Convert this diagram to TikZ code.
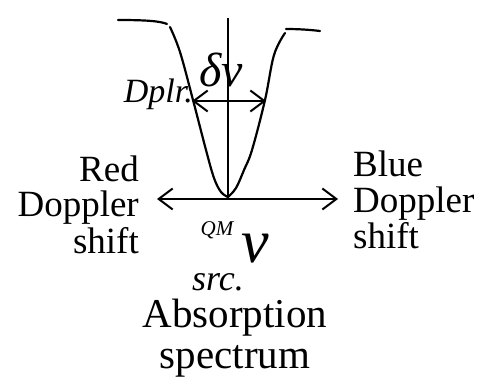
\documentclass[tikz,border=0pt]{standalone}
\usepackage{fontspec}
\setmainfont{Liberation Serif}
\usetikzlibrary{arrows.meta}
\begin{document}
\begin{tikzpicture}[x=1pt,y=-1pt,
  curve/.style={line width=2.2pt,line join=round,line cap=round},
  axis/.style={line width=1.4pt},
  dblarrow/.style={line width=2pt,{Straight Barb[length=14pt,width=21pt,line width=2pt]}-{Straight Barb[length=14pt,width=21pt,line width=2pt]}},
  lbl/.style={inner sep=0pt,font=\fontsize{37}{37}\selectfont},
  ital/.style={inner sep=0pt}]
\useasboundingbox (0,0) rectangle (479,382);
% profile
\draw[curve] (118,20) .. controls (145,20) and (160,21) .. (167,24);
\draw[curve] plot[smooth,tension=0.6] coordinates {(170,27) (180,52) (193,100) (206,150) (214,178) (221,192) (228,197)};
\draw[curve] plot[smooth,tension=0.6] coordinates {(228,197) (236,188) (244,170) (252,150) (265,100) (274,55) (285,33)};
\draw[curve] (286,29) .. controls (300,29) and (312,30) .. (320,31);
% axes
\coordinate (vt) at (228,18);
\coordinate (vb) at (228,199);
\draw[axis] (vt) -- (vb);
\coordinate (hl) at (157,199);
\coordinate (hr) at (338,199);
\draw[dblarrow] (hl) -- (hr);
\coordinate (wl) at (192,101);
\coordinate (wr) at (266,101);
\draw[dblarrow] (wl) -- (wr);
% labels
\node[ital,anchor=base,font=\fontsize{48}{48}\selectfont\itshape] (dnu) at (221,87) {δν};
\node[ital,anchor=base east,font=\fontsize{34}{34}\selectfont\itshape] (dplr) at (193,103) {Dplr.};
\node[ital,anchor=base,font=\fontsize{21}{21}\selectfont\itshape] (qm) at (217,236) {QM};
\node[ital,anchor=base,font=\fontsize{36}{36}\selectfont\itshape] (src) at (218,290) {src.};
\node[ital,anchor=base,font=\fontsize{62}{62}\selectfont\itshape] (nu) at (255,262) {ν};
\node[lbl,anchor=base east] (red1) at (139,182) {Red};
\node[lbl,anchor=base east] (red2) at (139,217) {Doppler};
\node[lbl,anchor=base east] (red3) at (139,253) {shift};
\node[lbl,anchor=base west] (blue1) at (353,177) {Blue};
\node[lbl,anchor=base west] (blue2) at (353,212) {Doppler};
\node[lbl,anchor=base west] (blue3) at (353,248) {shift};
\node[lbl,anchor=base,font=\fontsize{41}{41}\selectfont] (abs1) at (235,327) {Absorption};
\node[lbl,anchor=base,font=\fontsize{41}{41}\selectfont] (abs2) at (235,368) {spectrum};
\end{tikzpicture}
\end{document}
